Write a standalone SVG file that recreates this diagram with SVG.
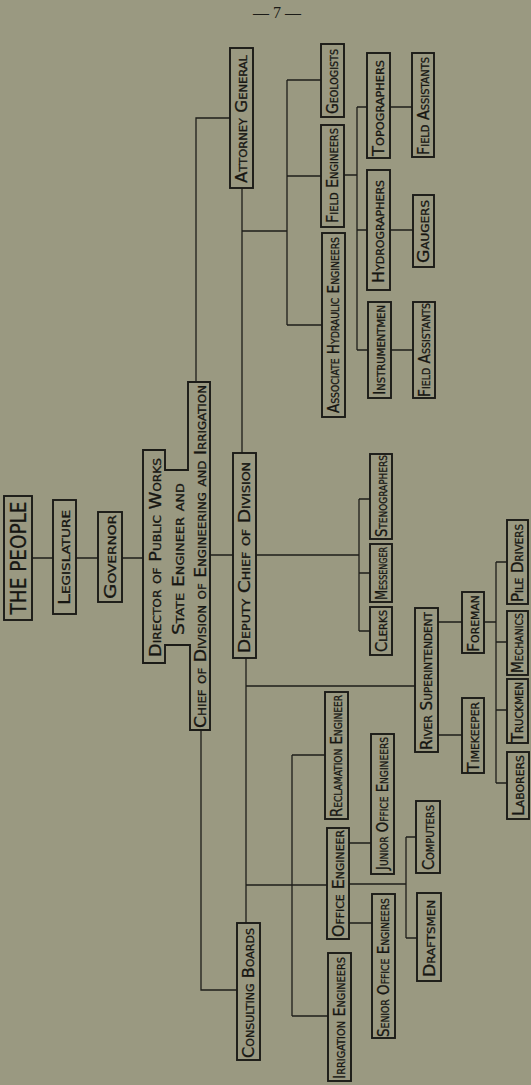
<svg xmlns="http://www.w3.org/2000/svg" width="531" height="1085" viewBox="0 0 531 1085">
<defs>
<style>
.bg{fill:#9a9981}
.box{fill:none;stroke:#1b1b17;stroke-width:1.9}
.ln{fill:none;stroke:#1e1e1a;stroke-width:1.3}
.t{font-family:"DejaVu Sans Condensed","Liberation Sans",sans-serif;font-size:16px;font-variant:small-caps;fill:#161612;stroke:#161612;stroke-width:0.3;text-anchor:middle;dominant-baseline:central}
.big{font-size:22px;font-variant:normal}
.hdr{font-family:"Liberation Serif",serif;font-size:16px;fill:#1b1b17;text-anchor:middle}
</style>
</defs>
<rect class="bg" x="0" y="0" width="531" height="1085"/>
<text class="hdr" x="277" y="18">— 7 —</text>

<g id="connectors">
<path class="ln" d="M32,558H53 M76,558H98 M122,558H143"/>
<path class="ln" d="M210,555H233 M256,555H359 M359,499V631 M359,499H370 M359,573H370 M359,631H370"/>
<path class="ln" d="M196,382V118H230"/>
<path class="ln" d="M242,188V453 M242,231H287 M287,80V325 M287,80H321 M287,176H321 M287,325H322"/>
<path class="ln" d="M344,175H357 M357,107V350 M357,107H367 M357,230H367 M357,350H368"/>
<path class="ln" d="M390,107H412 M390,230H413 M391,350H413"/>
<path class="ln" d="M201,730V990H237"/>
<path class="ln" d="M246,658V923 M246,686H415 M246,885H327"/>
<path class="ln" d="M292,755V1016 M292,755H325 M292,1016H328"/>
<path class="ln" d="M438,622H462 M438,735H462 M484,622H496 M496,562V783 M496,562H507 M496,642H507 M496,710H507 M496,783H507"/>
<path class="ln" d="M349,843H371 M349,923H372 M349,884H406 M406,837V938 M406,837H416 M406,938H417"/>
</g>

<g id="the-people"><rect class="box" x="4" y="496" width="28" height="124"/><text class="t big" transform="translate(18,558) rotate(-90)" textLength="113" lengthAdjust="spacingAndGlyphs">THE PEOPLE</text></g>
<g id="legislature"><rect class="box" x="53" y="500" width="23" height="114"/><text class="t" transform="translate(64.5,557.5) rotate(-90)" textLength="95" lengthAdjust="spacingAndGlyphs">Legislature</text></g>
<g id="governor"><rect class="box" x="98" y="512" width="24" height="90"/><text class="t" transform="translate(110,557) rotate(-90)" textLength="84" lengthAdjust="spacingAndGlyphs">Governor</text></g>
<g id="director">
<path class="box" d="M143,450H165V470H188V382H210V730H190V645H165V663H143Z"/>
<text class="t" transform="translate(155.5,557.5) rotate(-90)" textLength="199" lengthAdjust="spacingAndGlyphs">Director of Public Works</text>
<text class="t" transform="translate(178.5,559) rotate(-90)" textLength="152" lengthAdjust="spacingAndGlyphs">State Engineer and</text>
<text class="t" transform="translate(200,556.5) rotate(-90)" textLength="343" lengthAdjust="spacingAndGlyphs">Chief of Division of Engineering and Irrigation</text>
</g>
<g id="attorney-general"><rect class="box" x="230" y="48" width="23" height="140"/><text class="t" transform="translate(241.5,119) rotate(-90)" textLength="128" lengthAdjust="spacingAndGlyphs">Attorney General</text></g>
<g id="deputy-chief"><rect class="box" x="233" y="453" width="23" height="205"/><text class="t" transform="translate(244.5,557.5) rotate(-90)" textLength="191" lengthAdjust="spacingAndGlyphs">Deputy Chief of Division</text></g>
<g id="consulting-boards"><rect class="box" x="237" y="923" width="23" height="137"/><text class="t" transform="translate(248.5,993) rotate(-90)" textLength="130" lengthAdjust="spacingAndGlyphs">Consulting Boards</text></g>

<g id="geologists"><rect class="box" x="321" y="44" width="23" height="73"/><text class="t" transform="translate(332.5,81.5) rotate(-90)" textLength="65" lengthAdjust="spacingAndGlyphs">Geologists</text></g>
<g id="field-engineers"><rect class="box" x="321" y="125" width="23" height="102"/><text class="t" transform="translate(332.5,175.5) rotate(-90)" textLength="95" lengthAdjust="spacingAndGlyphs">Field Engineers</text></g>
<g id="assoc-hydraulic"><rect class="box" x="322" y="233" width="23" height="184"/><text class="t" transform="translate(333.5,325) rotate(-90)" textLength="176" lengthAdjust="spacingAndGlyphs">Associate Hydraulic Engineers</text></g>
<g id="topographers"><rect class="box" x="367" y="53" width="23" height="105"/><text class="t" transform="translate(378.5,108) rotate(-90)" textLength="96" lengthAdjust="spacingAndGlyphs">Topographers</text></g>
<g id="hydrographers"><rect class="box" x="367" y="170" width="23" height="120"/><text class="t" transform="translate(378.5,231.5) rotate(-90)" textLength="103" lengthAdjust="spacingAndGlyphs">Hydrographers</text></g>
<g id="instrumentmen"><rect class="box" x="368" y="302" width="23" height="96"/><text class="t" transform="translate(379.5,350) rotate(-90)" textLength="90" lengthAdjust="spacingAndGlyphs">Instrumentmen</text></g>
<g id="field-assistants-1"><rect class="box" x="412" y="53" width="22" height="104"/><text class="t" transform="translate(423,106) rotate(-90)" textLength="98" lengthAdjust="spacingAndGlyphs">Field Assistants</text></g>
<g id="gaugers"><rect class="box" x="413" y="195" width="21" height="72"/><text class="t" transform="translate(423.5,231.5) rotate(-90)" textLength="63" lengthAdjust="spacingAndGlyphs">Gaugers</text></g>
<g id="field-assistants-2"><rect class="box" x="413" y="302" width="22" height="96"/><text class="t" transform="translate(424,350) rotate(-90)" textLength="94" lengthAdjust="spacingAndGlyphs">Field Assistants</text></g>

<g id="stenographers"><rect class="box" x="370" y="454" width="22" height="85"/><text class="t" transform="translate(381,496) rotate(-90)" textLength="82" lengthAdjust="spacingAndGlyphs">Stenographers</text></g>
<g id="messenger"><rect class="box" x="370" y="544" width="22" height="58"/><text class="t" transform="translate(381,573.5) rotate(-90)" textLength="53" lengthAdjust="spacingAndGlyphs">Messenger</text></g>
<g id="clerks"><rect class="box" x="370" y="607" width="22" height="48"/><text class="t" transform="translate(381,631) rotate(-90)" textLength="42" lengthAdjust="spacingAndGlyphs">Clerks</text></g>

<g id="river-superintendent"><rect class="box" x="415" y="608" width="23" height="144"/><text class="t" transform="translate(426.5,681) rotate(-90)" textLength="138" lengthAdjust="spacingAndGlyphs">River Superintendent</text></g>
<g id="foreman"><rect class="box" x="462" y="592" width="22" height="61"/><text class="t" transform="translate(473,623.5) rotate(-90)" textLength="57" lengthAdjust="spacingAndGlyphs">Foreman</text></g>
<g id="timekeeper"><rect class="box" x="462" y="698" width="22" height="75"/><text class="t" transform="translate(473,737) rotate(-90)" textLength="70" lengthAdjust="spacingAndGlyphs">Timekeeper</text></g>
<g id="pile-drivers"><rect class="box" x="507" y="520" width="21" height="84"/><text class="t" transform="translate(517.5,563) rotate(-90)" textLength="78" lengthAdjust="spacingAndGlyphs">Pile Drivers</text></g>
<g id="mechanics"><rect class="box" x="507" y="611" width="21" height="64"/><text class="t" transform="translate(517.5,643) rotate(-90)" textLength="60" lengthAdjust="spacingAndGlyphs">Mechanics</text></g>
<g id="truckmen"><rect class="box" x="507" y="679" width="21" height="64"/><text class="t" transform="translate(517.5,712) rotate(-90)" textLength="60" lengthAdjust="spacingAndGlyphs">Truckmen</text></g>
<g id="laborers"><rect class="box" x="507" y="752" width="22" height="67"/><text class="t" transform="translate(518,785.5) rotate(-90)" textLength="61" lengthAdjust="spacingAndGlyphs">Laborers</text></g>

<g id="reclamation-engineer"><rect class="box" x="325" y="692" width="23" height="127"/><text class="t" transform="translate(336.5,756) rotate(-90)" textLength="122" lengthAdjust="spacingAndGlyphs">Reclamation Engineer</text></g>
<g id="office-engineer"><rect class="box" x="327" y="828" width="22" height="111"/><text class="t" transform="translate(338,883.5) rotate(-90)" textLength="107" lengthAdjust="spacingAndGlyphs">Office   Engineer</text></g>
<g id="irrigation-engineers"><rect class="box" x="328" y="953" width="23" height="128"/><text class="t" transform="translate(339.5,1018) rotate(-90)" textLength="122" lengthAdjust="spacingAndGlyphs">Irrigation   Engineers</text></g>
<g id="junior-office-engineers"><rect class="box" x="371" y="734" width="23" height="140"/><text class="t" transform="translate(382.5,803.5) rotate(-90)" textLength="133" lengthAdjust="spacingAndGlyphs">Junior Office Engineers</text></g>
<g id="senior-office-engineers"><rect class="box" x="372" y="894" width="23" height="144"/><text class="t" transform="translate(383.5,967.5) rotate(-90)" textLength="139" lengthAdjust="spacingAndGlyphs">Senior Office Engineers</text></g>
<g id="computers"><rect class="box" x="416" y="801" width="24" height="72"/><text class="t" transform="translate(428,837.5) rotate(-90)" textLength="65" lengthAdjust="spacingAndGlyphs">Computers</text></g>
<g id="draftsmen"><rect class="box" x="417" y="893" width="24" height="88"/><text class="t" transform="translate(429,938.5) rotate(-90)" textLength="77" lengthAdjust="spacingAndGlyphs">Draftsmen</text></g>
</svg>
